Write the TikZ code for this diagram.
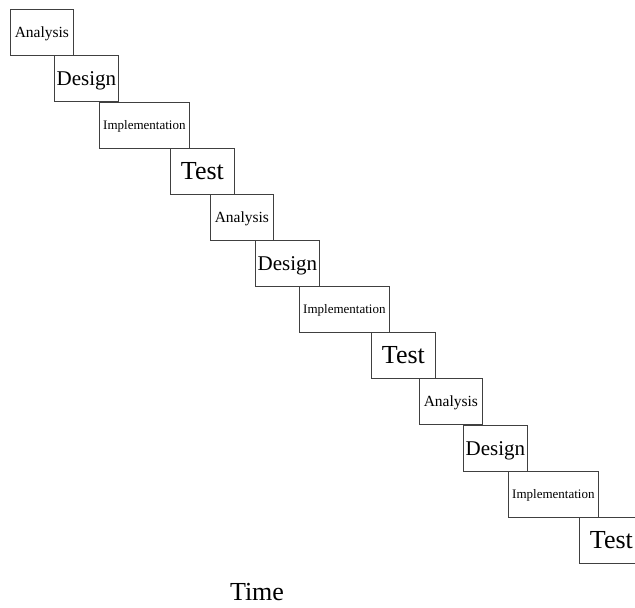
\documentclass[tikz,border=0pt]{standalone}
\usepackage{fontspec}
\setmainfont{Liberation Serif}
\begin{document}
\begin{tikzpicture}[x=1pt,y=-1pt,
  phase/.style={draw=black!75, line width=0.8pt, anchor=north west, inner sep=0pt,
    minimum height=46pt, align=center, text depth=0pt},
  ana/.style={phase, minimum width=63pt, font=\fontsize{15.5}{18}\selectfont},
  des/.style={phase, minimum width=64pt, font=\fontsize{21}{24}\selectfont},
  imp/.style={phase, minimum width=90pt, font=\fontsize{13}{15}\selectfont},
  tst/.style={phase, minimum width=64pt, font=\fontsize{26}{30}\selectfont},
  lbl/.style={font=\fontsize{26}{30}\selectfont}]
\useasboundingbox (0,0) rectangle (635,608);
% first iteration
\node[ana] (a1) at (10,9)   {Analysis};
\node[des] (d1) at (54,55)  {Design};
\node[imp] (i1) at (99,102) {Implementation};
\node[tst] (t1) at (170,148) {Test};
% second iteration
\node[ana] (a2) at (210,194) {Analysis};
\node[des] (d2) at (255,240) {Design};
\node[imp] (i2) at (299,286) {Implementation};
\node[tst] (t2) at (371,332) {Test};
% third iteration
\node[ana] (a3) at (419,378) {Analysis};
\node[des] (d3) at (463,425) {Design};
\node[imp] (i3) at (508,471) {Implementation};
\node[tst] (t3) at (579,517) {Test};
% axis label
\node[lbl] (time) at (257,592) {Time};
\end{tikzpicture}
\end{document}
